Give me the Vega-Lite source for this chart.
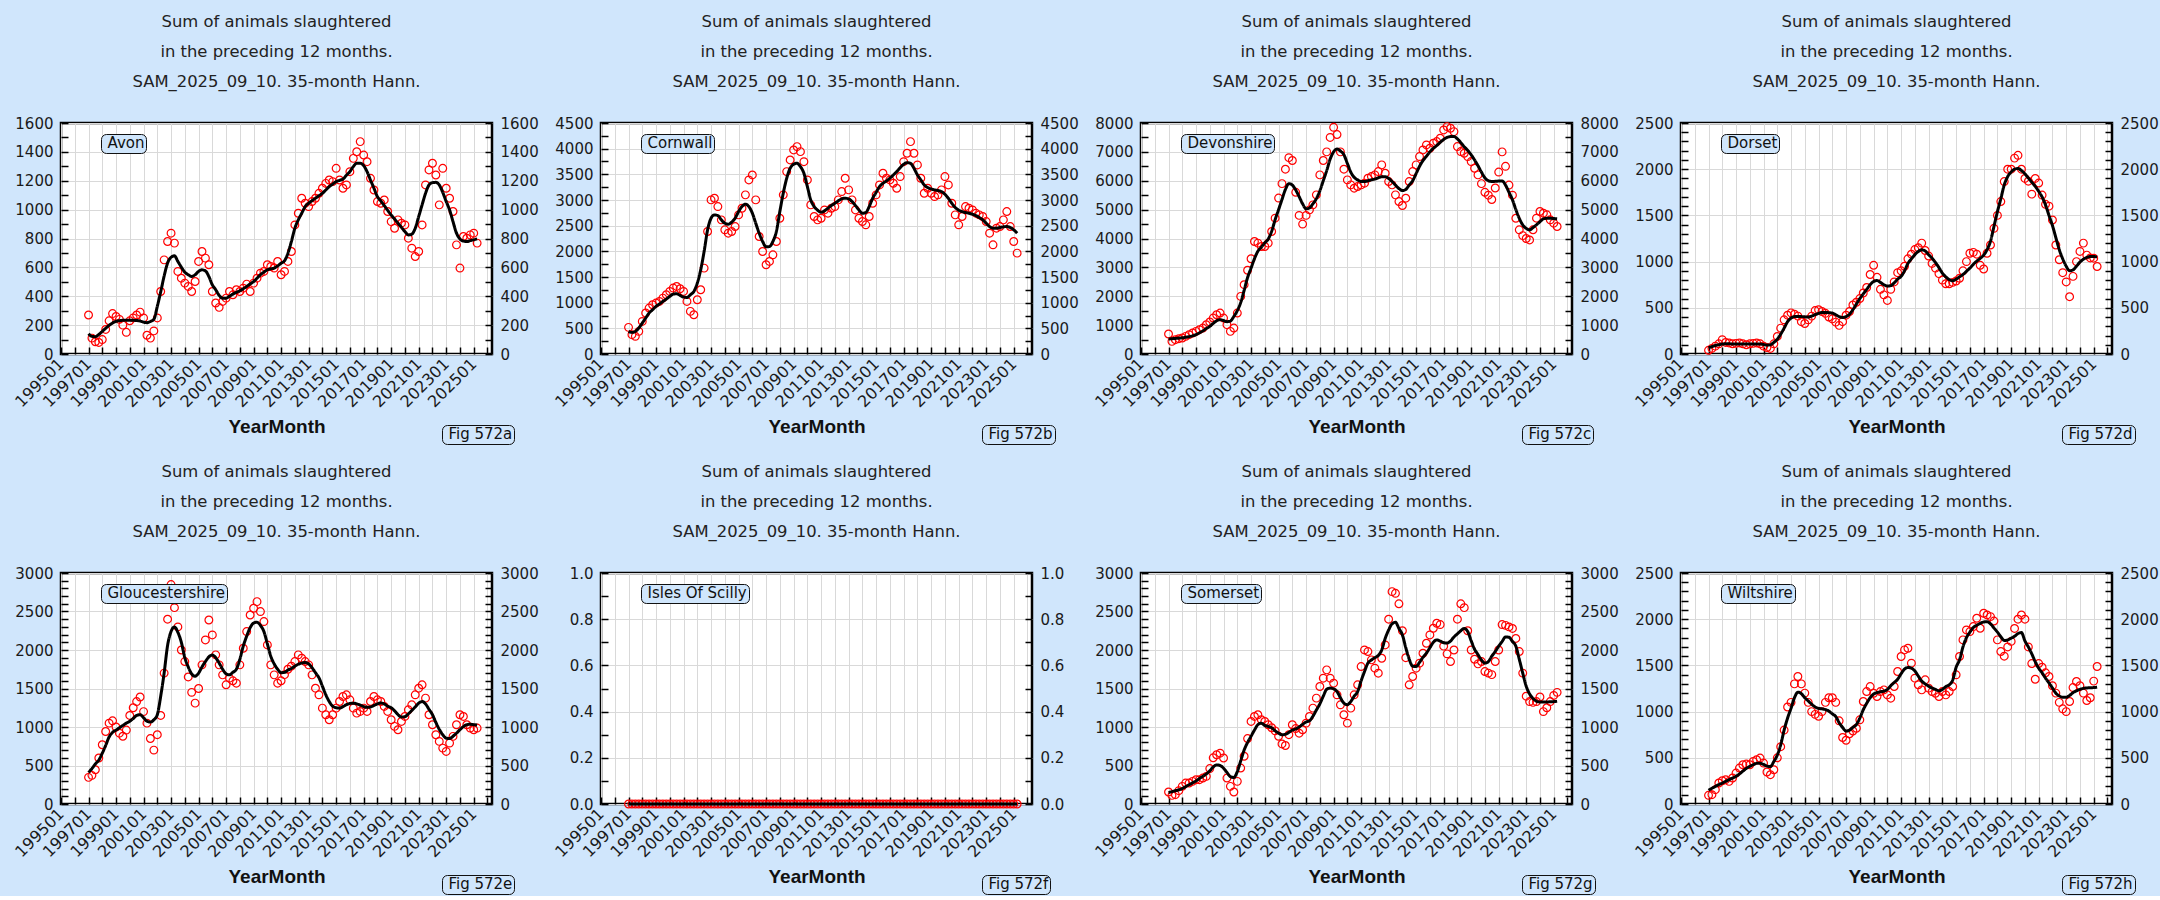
{
  "$schema": "https://vega.github.io/schema/vega-lite/v6.json",
  "background": "#d0e6fc",
  "padding": {"left": 10, "top": 12, "right": 0, "bottom": 0},
  "columns": 4,
  "spacing": {"row": 219, "column": 109},
  "bounds": "flush",
  "resolve": {"scale": {"shape": "independent", "strokeDash": "independent"}},
  "config": {
    "view": {"fill": "white", "stroke": "#000", "strokeWidth": 2.5},
    "title": {"font": "DejaVu Sans", "fontSize": 16.4, "fontWeight": "normal", "color": "#222", "lineHeight": 30, "offset": 26, "anchor": "middle"},
    "axis": {
      "labelFont": "DejaVu Sans", "labelFontSize": 15, "labelColor": "#1a1a1a",
      "domain": false, "tickColor": "#000", "tickWidth": 1.5, "tickSize": -7, "labelPadding": 15,
      "gridColor": "#d9d9d9", "gridWidth": 1,
      "titleFont": "Liberation Sans", "titleFontSize": 19, "titleFontWeight": "bold", "titleColor": "#111"
    },
    "axisX": {"labelAngle": -45, "labelAlign": "right", "labelBaseline": "middle", "labelOverlap": false, "labelFlush": false, "labelPadding": 14, "labelFontSize": 16, "titlePadding": 8},
    "axisY": {"format": "d"},
    "legend": {
      "fillColor": "#d0e6fc", "strokeColor": "#111", "cornerRadius": 5, "padding": 1.5,
      "labelFont": "DejaVu Sans", "labelFontSize": 15, "labelColor": "#111",
      "symbolSize": 0, "symbolOpacity": 0, "symbolStrokeWidth": 0, "labelOffset": -10
    }
  },
  "datasets": {
    "pts": [
      {"d":"1997-01","Avon":270,"Cornwall":519,"Devonshire":692,"Dorset":40,"Gloucestershire":346,"Isles Of Scilly":0,"Somerset":156,"Wiltshire":94},
      {"d":"1997-04","Avon":110,"Cornwall":376,"Devonshire":438,"Dorset":60,"Gloucestershire":372,"Isles Of Scilly":0,"Somerset":112,"Wiltshire":101},
      {"d":"1997-07","Avon":85,"Cornwall":344,"Devonshire":496,"Dorset":85,"Gloucestershire":445,"Isles Of Scilly":0,"Somerset":121,"Wiltshire":155},
      {"d":"1997-10","Avon":80,"Cornwall":441,"Devonshire":530,"Dorset":110,"Gloucestershire":597,"Isles Of Scilly":0,"Somerset":173,"Wiltshire":227},
      {"d":"1998-01","Avon":100,"Cornwall":635,"Devonshire":553,"Dorset":155,"Gloucestershire":769,"Isles Of Scilly":0,"Somerset":229,"Wiltshire":252},
      {"d":"1998-04","Avon":170,"Cornwall":798,"Devonshire":611,"Dorset":125,"Gloucestershire":942,"Isles Of Scilly":0,"Somerset":272,"Wiltshire":263},
      {"d":"1998-07","Avon":230,"Cornwall":895,"Devonshire":669,"Dorset":120,"Gloucestershire":1050,"Isles Of Scilly":0,"Somerset":272,"Wiltshire":245},
      {"d":"1998-10","Avon":280,"Cornwall":960,"Devonshire":726,"Dorset":110,"Gloucestershire":1080,"Isles Of Scilly":0,"Somerset":294,"Wiltshire":281},
      {"d":"1999-01","Avon":260,"Cornwall":992,"Devonshire":784,"Dorset":115,"Gloucestershire":1000,"Isles Of Scilly":0,"Somerset":316,"Wiltshire":335},
      {"d":"1999-04","Avon":240,"Cornwall":1024,"Devonshire":842,"Dorset":120,"Gloucestershire":920,"Isles Of Scilly":0,"Somerset":316,"Wiltshire":389},
      {"d":"1999-07","Avon":200,"Cornwall":1089,"Devonshire":899,"Dorset":110,"Gloucestershire":880,"Isles Of Scilly":0,"Somerset":337,"Wiltshire":425},
      {"d":"1999-10","Avon":150,"Cornwall":1154,"Devonshire":1015,"Dorset":100,"Gloucestershire":960,"Isles Of Scilly":0,"Somerset":359,"Wiltshire":432},
      {"d":"2000-01","Avon":230,"Cornwall":1219,"Devonshire":1107,"Dorset":110,"Gloucestershire":1150,"Isles Of Scilly":0,"Somerset":460,"Wiltshire":425},
      {"d":"2000-04","Avon":250,"Cornwall":1284,"Devonshire":1245,"Dorset":115,"Gloucestershire":1250,"Isles Of Scilly":0,"Somerset":600,"Wiltshire":461},
      {"d":"2000-07","Avon":270,"Cornwall":1316,"Devonshire":1360,"Dorset":120,"Gloucestershire":1330,"Isles Of Scilly":0,"Somerset":640,"Wiltshire":479},
      {"d":"2000-10","Avon":290,"Cornwall":1271,"Devonshire":1418,"Dorset":110,"Gloucestershire":1390,"Isles Of Scilly":0,"Somerset":660,"Wiltshire":497},
      {"d":"2001-01","Avon":250,"Cornwall":1219,"Devonshire":1245,"Dorset":85,"Gloucestershire":1200,"Isles Of Scilly":0,"Somerset":597,"Wiltshire":443},
      {"d":"2001-04","Avon":130,"Cornwall":1024,"Devonshire":1015,"Dorset":70,"Gloucestershire":1050,"Isles Of Scilly":0,"Somerset":337,"Wiltshire":346},
      {"d":"2001-07","Avon":110,"Cornwall":830,"Devonshire":784,"Dorset":60,"Gloucestershire":850,"Isles Of Scilly":0,"Somerset":229,"Wiltshire":317},
      {"d":"2001-10","Avon":160,"Cornwall":765,"Devonshire":899,"Dorset":110,"Gloucestershire":700,"Isles Of Scilly":0,"Somerset":156,"Wiltshire":371},
      {"d":"2002-01","Avon":250,"Cornwall":1057,"Devonshire":1418,"Dorset":190,"Gloucestershire":900,"Isles Of Scilly":0,"Somerset":294,"Wiltshire":500},
      {"d":"2002-04","Avon":433,"Cornwall":1251,"Devonshire":1995,"Dorset":280,"Gloucestershire":1150,"Isles Of Scilly":0,"Somerset":467,"Wiltshire":620},
      {"d":"2002-07","Avon":652,"Cornwall":1673,"Devonshire":2400,"Dorset":370,"Gloucestershire":1700,"Isles Of Scilly":0,"Somerset":620,"Wiltshire":800},
      {"d":"2002-10","Avon":779,"Cornwall":2386,"Devonshire":2900,"Dorset":420,"Gloucestershire":2400,"Isles Of Scilly":0,"Somerset":850,"Wiltshire":1050},
      {"d":"2003-01","Avon":837,"Cornwall":3002,"Devonshire":3300,"Dorset":445,"Gloucestershire":2850,"Isles Of Scilly":0,"Somerset":1072,"Wiltshire":1100},
      {"d":"2003-04","Avon":768,"Cornwall":3034,"Devonshire":3897,"Dorset":430,"Gloucestershire":2550,"Isles Of Scilly":0,"Somerset":1137,"Wiltshire":1300},
      {"d":"2003-07","Avon":572,"Cornwall":2872,"Devonshire":3840,"Dorset":410,"Gloucestershire":2300,"Isles Of Scilly":0,"Somerset":1159,"Wiltshire":1380},
      {"d":"2003-10","Avon":525,"Cornwall":2613,"Devonshire":3724,"Dorset":350,"Gloucestershire":2000,"Isles Of Scilly":0,"Somerset":1094,"Wiltshire":1300},
      {"d":"2004-01","Avon":491,"Cornwall":2419,"Devonshire":3724,"Dorset":330,"Gloucestershire":1850,"Isles Of Scilly":0,"Somerset":1072,"Wiltshire":1200},
      {"d":"2004-04","Avon":468,"Cornwall":2354,"Devonshire":3840,"Dorset":370,"Gloucestershire":1650,"Isles Of Scilly":0,"Somerset":1029,"Wiltshire":1100},
      {"d":"2004-07","Avon":433,"Cornwall":2386,"Devonshire":4243,"Dorset":410,"Gloucestershire":1450,"Isles Of Scilly":0,"Somerset":990,"Wiltshire":1000},
      {"d":"2004-10","Avon":502,"Cornwall":2483,"Devonshire":4704,"Dorset":470,"Gloucestershire":1310,"Isles Of Scilly":0,"Somerset":950,"Wiltshire":970},
      {"d":"2005-01","Avon":641,"Cornwall":2710,"Devonshire":5400,"Dorset":480,"Gloucestershire":1500,"Isles Of Scilly":0,"Somerset":880,"Wiltshire":950},
      {"d":"2005-04","Avon":710,"Cornwall":2840,"Devonshire":5900,"Dorset":460,"Gloucestershire":1807,"Isles Of Scilly":0,"Somerset":780,"Wiltshire":1000},
      {"d":"2005-07","Avon":664,"Cornwall":3100,"Devonshire":6400,"Dorset":440,"Gloucestershire":2131,"Isles Of Scilly":0,"Somerset":760,"Wiltshire":1100},
      {"d":"2005-10","Avon":618,"Cornwall":3391,"Devonshire":6800,"Dorset":400,"Gloucestershire":2390,"Isles Of Scilly":0,"Somerset":900,"Wiltshire":1150},
      {"d":"2006-01","Avon":433,"Cornwall":3488,"Devonshire":6700,"Dorset":380,"Gloucestershire":2196,"Isles Of Scilly":0,"Somerset":1029,"Wiltshire":1150},
      {"d":"2006-04","Avon":353,"Cornwall":3002,"Devonshire":5600,"Dorset":345,"Gloucestershire":1937,"Isles Of Scilly":0,"Somerset":980,"Wiltshire":1100},
      {"d":"2006-07","Avon":323,"Cornwall":2289,"Devonshire":4800,"Dorset":310,"Gloucestershire":1807,"Isles Of Scilly":0,"Somerset":920,"Wiltshire":900},
      {"d":"2006-10","Avon":364,"Cornwall":1997,"Devonshire":4500,"Dorset":350,"Gloucestershire":1677,"Isles Of Scilly":0,"Somerset":964,"Wiltshire":720},
      {"d":"2007-01","Avon":387,"Cornwall":1738,"Devonshire":4800,"Dorset":420,"Gloucestershire":1548,"Isles Of Scilly":0,"Somerset":1050,"Wiltshire":690},
      {"d":"2007-04","Avon":433,"Cornwall":1803,"Devonshire":4992,"Dorset":460,"Gloucestershire":1634,"Isles Of Scilly":0,"Somerset":1137,"Wiltshire":760},
      {"d":"2007-07","Avon":410,"Cornwall":1932,"Devonshire":5165,"Dorset":530,"Gloucestershire":1600,"Isles Of Scilly":0,"Somerset":1245,"Wiltshire":790},
      {"d":"2007-10","Avon":445,"Cornwall":2192,"Devonshire":5511,"Dorset":560,"Gloucestershire":1569,"Isles Of Scilly":0,"Somerset":1375,"Wiltshire":820},
      {"d":"2008-01","Avon":433,"Cornwall":2645,"Devonshire":6203,"Dorset":600,"Gloucestershire":1807,"Isles Of Scilly":0,"Somerset":1526,"Wiltshire":911},
      {"d":"2008-04","Avon":456,"Cornwall":3100,"Devonshire":6700,"Dorset":660,"Gloucestershire":2023,"Isles Of Scilly":0,"Somerset":1634,"Wiltshire":1109},
      {"d":"2008-07","Avon":484,"Cornwall":3553,"Devonshire":7000,"Dorset":720,"Gloucestershire":2239,"Isles Of Scilly":0,"Somerset":1742,"Wiltshire":1217},
      {"d":"2008-10","Avon":433,"Cornwall":3780,"Devonshire":7500,"Dorset":860,"Gloucestershire":2455,"Isles Of Scilly":0,"Somerset":1634,"Wiltshire":1271},
      {"d":"2009-01","Avon":491,"Cornwall":3975,"Devonshire":7850,"Dorset":960,"Gloucestershire":2542,"Isles Of Scilly":0,"Somerset":1569,"Wiltshire":1199},
      {"d":"2009-04","Avon":525,"Cornwall":4040,"Devonshire":7600,"Dorset":830,"Gloucestershire":2628,"Isles Of Scilly":0,"Somerset":1418,"Wiltshire":1163},
      {"d":"2009-07","Avon":560,"Cornwall":3942,"Devonshire":7000,"Dorset":700,"Gloucestershire":2499,"Isles Of Scilly":0,"Somerset":1288,"Wiltshire":1217},
      {"d":"2009-10","Avon":572,"Cornwall":3747,"Devonshire":6400,"Dorset":640,"Gloucestershire":2369,"Isles Of Scilly":0,"Somerset":1159,"Wiltshire":1235},
      {"d":"2010-01","Avon":618,"Cornwall":3391,"Devonshire":6030,"Dorset":580,"Gloucestershire":2066,"Isles Of Scilly":0,"Somerset":1050,"Wiltshire":1181},
      {"d":"2010-04","Avon":606,"Cornwall":2905,"Devonshire":5857,"Dorset":700,"Gloucestershire":1807,"Isles Of Scilly":0,"Somerset":1245,"Wiltshire":1145},
      {"d":"2010-07","Avon":595,"Cornwall":2678,"Devonshire":5742,"Dorset":780,"Gloucestershire":1677,"Isles Of Scilly":0,"Somerset":1418,"Wiltshire":1271},
      {"d":"2010-10","Avon":641,"Cornwall":2613,"Devonshire":5799,"Dorset":880,"Gloucestershire":1569,"Isles Of Scilly":0,"Somerset":1548,"Wiltshire":1434},
      {"d":"2011-01","Avon":549,"Cornwall":2645,"Devonshire":5857,"Dorset":900,"Gloucestershire":1600,"Isles Of Scilly":0,"Somerset":1785,"Wiltshire":1596},
      {"d":"2011-04","Avon":572,"Cornwall":2807,"Devonshire":5915,"Dorset":950,"Gloucestershire":1680,"Isles Of Scilly":0,"Somerset":2001,"Wiltshire":1668},
      {"d":"2011-07","Avon":641,"Cornwall":2743,"Devonshire":6088,"Dorset":1030,"Gloucestershire":1750,"Isles Of Scilly":0,"Somerset":1980,"Wiltshire":1686},
      {"d":"2011-10","Avon":710,"Cornwall":2840,"Devonshire":6145,"Dorset":1080,"Gloucestershire":1790,"Isles Of Scilly":0,"Somerset":1872,"Wiltshire":1524},
      {"d":"2012-01","Avon":894,"Cornwall":2872,"Devonshire":6203,"Dorset":1130,"Gloucestershire":1850,"Isles Of Scilly":0,"Somerset":1764,"Wiltshire":1362},
      {"d":"2012-04","Avon":975,"Cornwall":3002,"Devonshire":6318,"Dorset":1150,"Gloucestershire":1937,"Isles Of Scilly":0,"Somerset":1699,"Wiltshire":1290},
      {"d":"2012-07","Avon":1079,"Cornwall":3164,"Devonshire":6549,"Dorset":1200,"Gloucestershire":1893,"Isles Of Scilly":0,"Somerset":1893,"Wiltshire":1235},
      {"d":"2012-10","Avon":1044,"Cornwall":3424,"Devonshire":6260,"Dorset":1120,"Gloucestershire":1850,"Isles Of Scilly":0,"Somerset":2066,"Wiltshire":1344},
      {"d":"2013-01","Avon":1021,"Cornwall":3197,"Devonshire":5972,"Dorset":1060,"Gloucestershire":1807,"Isles Of Scilly":0,"Somerset":2400,"Wiltshire":1254},
      {"d":"2013-04","Avon":1056,"Cornwall":3002,"Devonshire":5857,"Dorset":980,"Gloucestershire":1677,"Isles Of Scilly":0,"Somerset":2758,"Wiltshire":1217},
      {"d":"2013-07","Avon":1079,"Cornwall":2807,"Devonshire":5511,"Dorset":930,"Gloucestershire":1504,"Isles Of Scilly":0,"Somerset":2736,"Wiltshire":1199},
      {"d":"2013-10","Avon":1113,"Cornwall":2645,"Devonshire":5280,"Dorset":870,"Gloucestershire":1418,"Isles Of Scilly":0,"Somerset":2600,"Wiltshire":1163},
      {"d":"2014-01","Avon":1148,"Cornwall":2580,"Devonshire":5142,"Dorset":800,"Gloucestershire":1245,"Isles Of Scilly":0,"Somerset":2250,"Wiltshire":1217},
      {"d":"2014-04","Avon":1182,"Cornwall":2516,"Devonshire":5396,"Dorset":760,"Gloucestershire":1159,"Isles Of Scilly":0,"Somerset":1900,"Wiltshire":1181},
      {"d":"2014-07","Avon":1205,"Cornwall":2678,"Devonshire":5972,"Dorset":760,"Gloucestershire":1094,"Isles Of Scilly":0,"Somerset":1548,"Wiltshire":1217},
      {"d":"2014-10","Avon":1194,"Cornwall":2937,"Devonshire":6318,"Dorset":775,"Gloucestershire":1159,"Isles Of Scilly":0,"Somerset":1656,"Wiltshire":1271},
      {"d":"2015-01","Avon":1286,"Cornwall":3100,"Devonshire":6549,"Dorset":790,"Gloucestershire":1245,"Isles Of Scilly":0,"Somerset":1764,"Wiltshire":1398},
      {"d":"2015-04","Avon":1205,"Cornwall":3294,"Devonshire":6837,"Dorset":820,"Gloucestershire":1331,"Isles Of Scilly":0,"Somerset":1829,"Wiltshire":1596},
      {"d":"2015-07","Avon":1148,"Cornwall":3521,"Devonshire":7068,"Dorset":900,"Gloucestershire":1396,"Isles Of Scilly":0,"Somerset":1958,"Wiltshire":1776},
      {"d":"2015-10","Avon":1171,"Cornwall":3424,"Devonshire":7241,"Dorset":1000,"Gloucestershire":1418,"Isles Of Scilly":0,"Somerset":2088,"Wiltshire":1884},
      {"d":"2016-01","Avon":1263,"Cornwall":3391,"Devonshire":7125,"Dorset":1090,"Gloucestershire":1353,"Isles Of Scilly":0,"Somerset":2196,"Wiltshire":1866},
      {"d":"2016-04","Avon":1355,"Cornwall":3326,"Devonshire":7298,"Dorset":1100,"Gloucestershire":1245,"Isles Of Scilly":0,"Somerset":2282,"Wiltshire":1920},
      {"d":"2016-07","Avon":1401,"Cornwall":3229,"Devonshire":7356,"Dorset":1080,"Gloucestershire":1180,"Isles Of Scilly":0,"Somerset":2347,"Wiltshire":2010},
      {"d":"2016-10","Avon":1471,"Cornwall":3456,"Devonshire":7472,"Dorset":960,"Gloucestershire":1202,"Isles Of Scilly":0,"Somerset":2330,"Wiltshire":1902},
      {"d":"2017-01","Avon":1378,"Cornwall":3747,"Devonshire":7760,"Dorset":920,"Gloucestershire":1245,"Isles Of Scilly":0,"Somerset":2050,"Wiltshire":2064},
      {"d":"2017-04","Avon":1332,"Cornwall":3910,"Devonshire":7875,"Dorset":1090,"Gloucestershire":1202,"Isles Of Scilly":0,"Somerset":1950,"Wiltshire":2046},
      {"d":"2017-07","Avon":1217,"Cornwall":4137,"Devonshire":7817,"Dorset":1180,"Gloucestershire":1331,"Isles Of Scilly":0,"Somerset":1850,"Wiltshire":2028},
      {"d":"2017-10","Avon":1136,"Cornwall":3910,"Devonshire":7702,"Dorset":1360,"Gloucestershire":1396,"Isles Of Scilly":0,"Somerset":2000,"Wiltshire":1980},
      {"d":"2018-01","Avon":1056,"Cornwall":3683,"Devonshire":7183,"Dorset":1500,"Gloucestershire":1353,"Isles Of Scilly":0,"Somerset":2400,"Wiltshire":1776},
      {"d":"2018-04","Avon":1044,"Cornwall":3424,"Devonshire":7010,"Dorset":1650,"Gloucestershire":1331,"Isles Of Scilly":0,"Somerset":2600,"Wiltshire":1650},
      {"d":"2018-07","Avon":1067,"Cornwall":3132,"Devonshire":6953,"Dorset":1866,"Gloucestershire":1267,"Isles Of Scilly":0,"Somerset":2550,"Wiltshire":1600},
      {"d":"2018-10","Avon":987,"Cornwall":3229,"Devonshire":6837,"Dorset":2000,"Gloucestershire":1202,"Isles Of Scilly":0,"Somerset":2250,"Wiltshire":1700},
      {"d":"2019-01","Avon":917,"Cornwall":3132,"Devonshire":6664,"Dorset":2000,"Gloucestershire":1094,"Isles Of Scilly":0,"Somerset":2000,"Wiltshire":1760},
      {"d":"2019-04","Avon":871,"Cornwall":3067,"Devonshire":6434,"Dorset":2120,"Gloucestershire":1008,"Isles Of Scilly":0,"Somerset":1880,"Wiltshire":1900},
      {"d":"2019-07","Avon":929,"Cornwall":3100,"Devonshire":6203,"Dorset":2150,"Gloucestershire":964,"Isles Of Scilly":0,"Somerset":1820,"Wiltshire":2000},
      {"d":"2019-10","Avon":906,"Cornwall":3197,"Devonshire":5900,"Dorset":2000,"Gloucestershire":1072,"Isles Of Scilly":0,"Somerset":1850,"Wiltshire":2046},
      {"d":"2020-01","Avon":894,"Cornwall":3456,"Devonshire":5600,"Dorset":1900,"Gloucestershire":1137,"Isles Of Scilly":0,"Somerset":1720,"Wiltshire":2000},
      {"d":"2020-04","Avon":802,"Cornwall":3294,"Devonshire":5500,"Dorset":1870,"Gloucestershire":1223,"Isles Of Scilly":0,"Somerset":1700,"Wiltshire":1700},
      {"d":"2020-07","Avon":733,"Cornwall":2937,"Devonshire":5350,"Dorset":1730,"Gloucestershire":1288,"Isles Of Scilly":0,"Somerset":1680,"Wiltshire":1520},
      {"d":"2020-10","Avon":675,"Cornwall":2710,"Devonshire":5750,"Dorset":1900,"Gloucestershire":1418,"Isles Of Scilly":0,"Somerset":1850,"Wiltshire":1350},
      {"d":"2021-01","Avon":710,"Cornwall":2516,"Devonshire":6300,"Dorset":1850,"Gloucestershire":1504,"Isles Of Scilly":0,"Somerset":2000,"Wiltshire":1520},
      {"d":"2021-04","Avon":894,"Cornwall":2678,"Devonshire":7000,"Dorset":1720,"Gloucestershire":1548,"Isles Of Scilly":0,"Somerset":2330,"Wiltshire":1480},
      {"d":"2021-07","Avon":1171,"Cornwall":2872,"Devonshire":6500,"Dorset":1620,"Gloucestershire":1375,"Isles Of Scilly":0,"Somerset":2320,"Wiltshire":1420},
      {"d":"2021-10","Avon":1275,"Cornwall":2840,"Devonshire":5850,"Dorset":1600,"Gloucestershire":1159,"Isles Of Scilly":0,"Somerset":2300,"Wiltshire":1380},
      {"d":"2022-01","Avon":1321,"Cornwall":2807,"Devonshire":5500,"Dorset":1450,"Gloucestershire":1029,"Isles Of Scilly":0,"Somerset":2280,"Wiltshire":1280},
      {"d":"2022-04","Avon":1240,"Cornwall":2743,"Devonshire":4700,"Dorset":1180,"Gloucestershire":899,"Isles Of Scilly":0,"Somerset":2150,"Wiltshire":1200},
      {"d":"2022-07","Avon":1033,"Cornwall":2710,"Devonshire":4300,"Dorset":1020,"Gloucestershire":813,"Isles Of Scilly":0,"Somerset":1980,"Wiltshire":1100},
      {"d":"2022-10","Avon":1286,"Cornwall":2678,"Devonshire":4100,"Dorset":880,"Gloucestershire":726,"Isles Of Scilly":0,"Somerset":1700,"Wiltshire":1030},
      {"d":"2023-01","Avon":1148,"Cornwall":2580,"Devonshire":4000,"Dorset":780,"Gloucestershire":683,"Isles Of Scilly":0,"Somerset":1400,"Wiltshire":1000},
      {"d":"2023-04","Avon":1079,"Cornwall":2354,"Devonshire":3950,"Dorset":620,"Gloucestershire":791,"Isles Of Scilly":0,"Somerset":1330,"Wiltshire":1109},
      {"d":"2023-07","Avon":987,"Cornwall":2127,"Devonshire":4301,"Dorset":840,"Gloucestershire":878,"Isles Of Scilly":0,"Somerset":1320,"Wiltshire":1260},
      {"d":"2023-10","Avon":756,"Cornwall":2451,"Devonshire":4704,"Dorset":1000,"Gloucestershire":1029,"Isles Of Scilly":0,"Somerset":1330,"Wiltshire":1326},
      {"d":"2024-01","Avon":595,"Cornwall":2483,"Devonshire":4935,"Dorset":1110,"Gloucestershire":1159,"Isles Of Scilly":0,"Somerset":1390,"Wiltshire":1280},
      {"d":"2024-04","Avon":814,"Cornwall":2613,"Devonshire":4877,"Dorset":1200,"Gloucestershire":1137,"Isles Of Scilly":0,"Somerset":1200,"Wiltshire":1200},
      {"d":"2024-07","Avon":802,"Cornwall":2775,"Devonshire":4820,"Dorset":1070,"Gloucestershire":1029,"Isles Of Scilly":0,"Somerset":1250,"Wiltshire":1120},
      {"d":"2024-10","Avon":825,"Cornwall":2483,"Devonshire":4647,"Dorset":1040,"Gloucestershire":986,"Isles Of Scilly":0,"Somerset":1330,"Wiltshire":1150},
      {"d":"2025-01","Avon":837,"Cornwall":2192,"Devonshire":4531,"Dorset":1037,"Gloucestershire":964,"Isles Of Scilly":0,"Somerset":1410,"Wiltshire":1330},
      {"d":"2025-04","Avon":768,"Cornwall":1965,"Devonshire":4416,"Dorset":947,"Gloucestershire":986,"Isles Of Scilly":0,"Somerset":1450,"Wiltshire":1488}
    ],
    "sm": [
      {"d":"1997-01","Avon":140,"Cornwall":441,"Devonshire":520,"Dorset":68,"Gloucestershire":410,"Isles Of Scilly":0,"Somerset":150,"Wiltshire":148},
      {"d":"1997-04","Avon":122,"Cornwall":421,"Devonshire":530,"Dorset":80,"Gloucestershire":460,"Isles Of Scilly":0,"Somerset":160,"Wiltshire":170},
      {"d":"1997-07","Avon":120,"Cornwall":441,"Devonshire":540,"Dorset":92,"Gloucestershire":520,"Isles Of Scilly":0,"Somerset":172,"Wiltshire":190},
      {"d":"1997-10","Avon":135,"Cornwall":506,"Devonshire":550,"Dorset":100,"Gloucestershire":570,"Isles Of Scilly":0,"Somerset":184,"Wiltshire":210},
      {"d":"1998-01","Avon":157,"Cornwall":603,"Devonshire":560,"Dorset":108,"Gloucestershire":660,"Isles Of Scilly":0,"Somerset":200,"Wiltshire":227},
      {"d":"1998-04","Avon":178,"Cornwall":700,"Devonshire":580,"Dorset":110,"Gloucestershire":760,"Isles Of Scilly":0,"Somerset":225,"Wiltshire":245},
      {"d":"1998-07","Avon":198,"Cornwall":798,"Devonshire":600,"Dorset":110,"Gloucestershire":870,"Isles Of Scilly":0,"Somerset":250,"Wiltshire":263},
      {"d":"1998-10","Avon":215,"Cornwall":862,"Devonshire":630,"Dorset":108,"Gloucestershire":930,"Isles Of Scilly":0,"Somerset":275,"Wiltshire":281},
      {"d":"1999-01","Avon":226,"Cornwall":927,"Devonshire":670,"Dorset":108,"Gloucestershire":960,"Isles Of Scilly":0,"Somerset":300,"Wiltshire":299},
      {"d":"1999-04","Avon":231,"Cornwall":973,"Devonshire":730,"Dorset":108,"Gloucestershire":990,"Isles Of Scilly":0,"Somerset":330,"Wiltshire":325},
      {"d":"1999-07","Avon":233,"Cornwall":1024,"Devonshire":800,"Dorset":108,"Gloucestershire":1020,"Isles Of Scilly":0,"Somerset":360,"Wiltshire":355},
      {"d":"1999-10","Avon":233,"Cornwall":1070,"Devonshire":880,"Dorset":108,"Gloucestershire":1050,"Isles Of Scilly":0,"Somerset":390,"Wiltshire":385},
      {"d":"2000-01","Avon":233,"Cornwall":1122,"Devonshire":957,"Dorset":108,"Gloucestershire":1075,"Isles Of Scilly":0,"Somerset":430,"Wiltshire":407},
      {"d":"2000-04","Avon":233,"Cornwall":1167,"Devonshire":1060,"Dorset":108,"Gloucestershire":1110,"Isles Of Scilly":0,"Somerset":480,"Wiltshire":425},
      {"d":"2000-07","Avon":232,"Cornwall":1174,"Devonshire":1150,"Dorset":108,"Gloucestershire":1150,"Isles Of Scilly":0,"Somerset":508,"Wiltshire":440},
      {"d":"2000-10","Avon":228,"Cornwall":1141,"Devonshire":1190,"Dorset":108,"Gloucestershire":1160,"Isles Of Scilly":0,"Somerset":500,"Wiltshire":440},
      {"d":"2001-01","Avon":221,"Cornwall":1109,"Devonshire":1160,"Dorset":102,"Gloucestershire":1120,"Isles Of Scilly":0,"Somerset":465,"Wiltshire":428},
      {"d":"2001-04","Avon":217,"Cornwall":1102,"Devonshire":1120,"Dorset":96,"Gloucestershire":1075,"Isles Of Scilly":0,"Somerset":410,"Wiltshire":410},
      {"d":"2001-07","Avon":225,"Cornwall":1154,"Devonshire":1140,"Dorset":100,"Gloucestershire":1065,"Isles Of Scilly":0,"Somerset":355,"Wiltshire":405},
      {"d":"2001-10","Avon":240,"Cornwall":1219,"Devonshire":1300,"Dorset":125,"Gloucestershire":1094,"Isles Of Scilly":0,"Somerset":345,"Wiltshire":460},
      {"d":"2002-01","Avon":330,"Cornwall":1381,"Devonshire":1500,"Dorset":160,"Gloucestershire":1160,"Isles Of Scilly":0,"Somerset":420,"Wiltshire":530},
      {"d":"2002-04","Avon":430,"Cornwall":1640,"Devonshire":1780,"Dorset":215,"Gloucestershire":1400,"Isles Of Scilly":0,"Somerset":560,"Wiltshire":640},
      {"d":"2002-07","Avon":540,"Cornwall":1997,"Devonshire":2200,"Dorset":280,"Gloucestershire":1700,"Isles Of Scilly":0,"Somerset":700,"Wiltshire":800},
      {"d":"2002-10","Avon":630,"Cornwall":2419,"Devonshire":2650,"Dorset":350,"Gloucestershire":2060,"Isles Of Scilly":0,"Somerset":800,"Wiltshire":930},
      {"d":"2003-01","Avon":670,"Cornwall":2645,"Devonshire":2975,"Dorset":389,"Gloucestershire":2240,"Isles Of Scilly":0,"Somerset":880,"Wiltshire":1037},
      {"d":"2003-04","Avon":680,"Cornwall":2710,"Devonshire":3300,"Dorset":405,"Gloucestershire":2300,"Isles Of Scilly":0,"Somerset":960,"Wiltshire":1150},
      {"d":"2003-07","Avon":641,"Cornwall":2697,"Devonshire":3560,"Dorset":407,"Gloucestershire":2230,"Isles Of Scilly":0,"Somerset":1030,"Wiltshire":1210},
      {"d":"2003-10","Avon":602,"Cornwall":2613,"Devonshire":3700,"Dorset":405,"Gloucestershire":2100,"Isles Of Scilly":0,"Somerset":1050,"Wiltshire":1195},
      {"d":"2004-01","Avon":567,"Cornwall":2548,"Devonshire":3850,"Dorset":402,"Gloucestershire":1900,"Isles Of Scilly":0,"Somerset":1020,"Wiltshire":1150},
      {"d":"2004-04","Avon":549,"Cornwall":2528,"Devonshire":3980,"Dorset":400,"Gloucestershire":1780,"Isles Of Scilly":0,"Somerset":1008,"Wiltshire":1115},
      {"d":"2004-07","Avon":537,"Cornwall":2568,"Devonshire":4250,"Dorset":410,"Gloucestershire":1690,"Isles Of Scilly":0,"Somerset":990,"Wiltshire":1080},
      {"d":"2004-10","Avon":549,"Cornwall":2645,"Devonshire":4650,"Dorset":425,"Gloucestershire":1660,"Isles Of Scilly":0,"Somerset":950,"Wiltshire":1050},
      {"d":"2005-01","Avon":572,"Cornwall":2775,"Devonshire":5000,"Dorset":440,"Gloucestershire":1700,"Isles Of Scilly":0,"Somerset":920,"Wiltshire":1035},
      {"d":"2005-04","Avon":583,"Cornwall":2872,"Devonshire":5350,"Dorset":450,"Gloucestershire":1780,"Isles Of Scilly":0,"Somerset":900,"Wiltshire":1030},
      {"d":"2005-07","Avon":576,"Cornwall":2918,"Devonshire":5700,"Dorset":450,"Gloucestershire":1850,"Isles Of Scilly":0,"Somerset":905,"Wiltshire":1022},
      {"d":"2005-10","Avon":537,"Cornwall":2872,"Devonshire":5900,"Dorset":447,"Gloucestershire":1910,"Isles Of Scilly":0,"Somerset":930,"Wiltshire":1005},
      {"d":"2006-01","Avon":479,"Cornwall":2743,"Devonshire":5850,"Dorset":443,"Gloucestershire":1935,"Isles Of Scilly":0,"Somerset":960,"Wiltshire":975},
      {"d":"2006-04","Avon":445,"Cornwall":2548,"Devonshire":5680,"Dorset":425,"Gloucestershire":1900,"Isles Of Scilly":0,"Somerset":975,"Wiltshire":947},
      {"d":"2006-07","Avon":406,"Cornwall":2354,"Devonshire":5450,"Dorset":405,"Gloucestershire":1830,"Isles Of Scilly":0,"Somerset":1000,"Wiltshire":880},
      {"d":"2006-10","Avon":387,"Cornwall":2192,"Devonshire":5200,"Dorset":396,"Gloucestershire":1750,"Isles Of Scilly":0,"Somerset":1035,"Wiltshire":828},
      {"d":"2007-01","Avon":387,"Cornwall":2088,"Devonshire":5030,"Dorset":405,"Gloucestershire":1690,"Isles Of Scilly":0,"Somerset":1065,"Wiltshire":790},
      {"d":"2007-04","Avon":400,"Cornwall":2094,"Devonshire":5060,"Dorset":430,"Gloucestershire":1677,"Isles Of Scilly":0,"Somerset":1080,"Wiltshire":800},
      {"d":"2007-07","Avon":415,"Cornwall":2192,"Devonshire":5200,"Dorset":480,"Gloucestershire":1710,"Isles Of Scilly":0,"Somerset":1140,"Wiltshire":830},
      {"d":"2007-10","Avon":427,"Cornwall":2386,"Devonshire":5380,"Dorset":540,"Gloucestershire":1750,"Isles Of Scilly":0,"Somerset":1220,"Wiltshire":860},
      {"d":"2008-01","Avon":438,"Cornwall":2775,"Devonshire":5650,"Dorset":600,"Gloucestershire":1880,"Isles Of Scilly":0,"Somerset":1300,"Wiltshire":930},
      {"d":"2008-04","Avon":452,"Cornwall":3132,"Devonshire":6000,"Dorset":650,"Gloucestershire":2050,"Isles Of Scilly":0,"Somerset":1400,"Wiltshire":1020},
      {"d":"2008-07","Avon":468,"Cornwall":3423,"Devonshire":6350,"Dorset":700,"Gloucestershire":2180,"Isles Of Scilly":0,"Somerset":1490,"Wiltshire":1090},
      {"d":"2008-10","Avon":485,"Cornwall":3618,"Devonshire":6750,"Dorset":750,"Gloucestershire":2290,"Isles Of Scilly":0,"Somerset":1505,"Wiltshire":1150},
      {"d":"2009-01","Avon":502,"Cornwall":3696,"Devonshire":7000,"Dorset":785,"Gloucestershire":2350,"Isles Of Scilly":0,"Somerset":1495,"Wiltshire":1190},
      {"d":"2009-04","Avon":525,"Cornwall":3715,"Devonshire":7100,"Dorset":795,"Gloucestershire":2360,"Isles Of Scilly":0,"Somerset":1460,"Wiltshire":1205},
      {"d":"2009-07","Avon":549,"Cornwall":3650,"Devonshire":7030,"Dorset":775,"Gloucestershire":2320,"Isles Of Scilly":0,"Somerset":1380,"Wiltshire":1215},
      {"d":"2009-10","Avon":567,"Cornwall":3521,"Devonshire":6900,"Dorset":750,"Gloucestershire":2240,"Isles Of Scilly":0,"Somerset":1310,"Wiltshire":1222},
      {"d":"2010-01","Avon":583,"Cornwall":3261,"Devonshire":6600,"Dorset":735,"Gloucestershire":2080,"Isles Of Scilly":0,"Somerset":1290,"Wiltshire":1240},
      {"d":"2010-04","Avon":590,"Cornwall":3002,"Devonshire":6300,"Dorset":740,"Gloucestershire":1920,"Isles Of Scilly":0,"Somerset":1330,"Wiltshire":1280},
      {"d":"2010-07","Avon":595,"Cornwall":2872,"Devonshire":6120,"Dorset":770,"Gloucestershire":1820,"Isles Of Scilly":0,"Somerset":1400,"Wiltshire":1315},
      {"d":"2010-10","Avon":610,"Cornwall":2801,"Devonshire":6030,"Dorset":810,"Gloucestershire":1750,"Isles Of Scilly":0,"Somerset":1460,"Wiltshire":1350},
      {"d":"2011-01","Avon":629,"Cornwall":2762,"Devonshire":5975,"Dorset":840,"Gloucestershire":1705,"Isles Of Scilly":0,"Somerset":1600,"Wiltshire":1410},
      {"d":"2011-04","Avon":645,"Cornwall":2788,"Devonshire":5970,"Dorset":900,"Gloucestershire":1710,"Isles Of Scilly":0,"Somerset":1720,"Wiltshire":1460},
      {"d":"2011-07","Avon":698,"Cornwall":2840,"Devonshire":6000,"Dorset":980,"Gloucestershire":1740,"Isles Of Scilly":0,"Somerset":1830,"Wiltshire":1477},
      {"d":"2011-10","Avon":779,"Cornwall":2892,"Devonshire":6030,"Dorset":1030,"Gloucestershire":1760,"Isles Of Scilly":0,"Somerset":1870,"Wiltshire":1470},
      {"d":"2012-01","Avon":871,"Cornwall":2937,"Devonshire":6060,"Dorset":1075,"Gloucestershire":1790,"Isles Of Scilly":0,"Somerset":1900,"Wiltshire":1440},
      {"d":"2012-04","Avon":929,"Cornwall":2983,"Devonshire":6100,"Dorset":1110,"Gloucestershire":1815,"Isles Of Scilly":0,"Somerset":1930,"Wiltshire":1385},
      {"d":"2012-07","Avon":975,"Cornwall":3022,"Devonshire":6140,"Dorset":1127,"Gloucestershire":1830,"Isles Of Scilly":0,"Somerset":2000,"Wiltshire":1330},
      {"d":"2012-10","Avon":1021,"Cornwall":3034,"Devonshire":6140,"Dorset":1115,"Gloucestershire":1837,"Isles Of Scilly":0,"Somerset":2150,"Wiltshire":1300},
      {"d":"2013-01","Avon":1044,"Cornwall":3022,"Devonshire":6080,"Dorset":1075,"Gloucestershire":1820,"Isles Of Scilly":0,"Somerset":2260,"Wiltshire":1275},
      {"d":"2013-04","Avon":1062,"Cornwall":2970,"Devonshire":5975,"Dorset":1037,"Gloucestershire":1770,"Isles Of Scilly":0,"Somerset":2340,"Wiltshire":1255},
      {"d":"2013-07","Avon":1079,"Cornwall":2892,"Devonshire":5850,"Dorset":990,"Gloucestershire":1705,"Isles Of Scilly":0,"Somerset":2360,"Wiltshire":1240},
      {"d":"2013-10","Avon":1096,"Cornwall":2807,"Devonshire":5730,"Dorset":935,"Gloucestershire":1640,"Isles Of Scilly":0,"Somerset":2280,"Wiltshire":1225},
      {"d":"2014-01","Avon":1113,"Cornwall":2743,"Devonshire":5660,"Dorset":875,"Gloucestershire":1530,"Isles Of Scilly":0,"Somerset":2196,"Wiltshire":1240},
      {"d":"2014-04","Avon":1136,"Cornwall":2755,"Devonshire":5700,"Dorset":835,"Gloucestershire":1420,"Isles Of Scilly":0,"Somerset":2030,"Wiltshire":1270},
      {"d":"2014-07","Avon":1159,"Cornwall":2872,"Devonshire":5850,"Dorset":805,"Gloucestershire":1331,"Isles Of Scilly":0,"Somerset":1880,"Wiltshire":1290},
      {"d":"2014-10","Avon":1177,"Cornwall":3034,"Devonshire":6000,"Dorset":792,"Gloucestershire":1270,"Isles Of Scilly":0,"Somerset":1790,"Wiltshire":1340},
      {"d":"2015-01","Avon":1194,"Cornwall":3151,"Devonshire":6250,"Dorset":810,"Gloucestershire":1250,"Isles Of Scilly":0,"Somerset":1785,"Wiltshire":1480},
      {"d":"2015-04","Avon":1203,"Cornwall":3261,"Devonshire":6500,"Dorset":835,"Gloucestershire":1245,"Isles Of Scilly":0,"Somerset":1840,"Wiltshire":1560},
      {"d":"2015-07","Avon":1212,"Cornwall":3326,"Devonshire":6700,"Dorset":860,"Gloucestershire":1265,"Isles Of Scilly":0,"Somerset":1905,"Wiltshire":1700},
      {"d":"2015-10","Avon":1238,"Cornwall":3372,"Devonshire":6850,"Dorset":895,"Gloucestershire":1290,"Isles Of Scilly":0,"Somerset":1960,"Wiltshire":1800},
      {"d":"2016-01","Avon":1263,"Cornwall":3424,"Devonshire":7000,"Dorset":930,"Gloucestershire":1305,"Isles Of Scilly":0,"Somerset":2030,"Wiltshire":1860},
      {"d":"2016-04","Avon":1298,"Cornwall":3488,"Devonshire":7120,"Dorset":970,"Gloucestershire":1310,"Isles Of Scilly":0,"Somerset":2100,"Wiltshire":1910},
      {"d":"2016-07","Avon":1321,"Cornwall":3553,"Devonshire":7220,"Dorset":1005,"Gloucestershire":1300,"Isles Of Scilly":0,"Somerset":2131,"Wiltshire":1935},
      {"d":"2016-10","Avon":1321,"Cornwall":3631,"Devonshire":7330,"Dorset":1035,"Gloucestershire":1285,"Isles Of Scilly":0,"Somerset":2115,"Wiltshire":1955},
      {"d":"2017-01","Avon":1305,"Cornwall":3696,"Devonshire":7430,"Dorset":1070,"Gloucestershire":1265,"Isles Of Scilly":0,"Somerset":2095,"Wiltshire":1970},
      {"d":"2017-04","Avon":1263,"Cornwall":3728,"Devonshire":7500,"Dorset":1130,"Gloucestershire":1255,"Isles Of Scilly":0,"Somerset":2090,"Wiltshire":1972},
      {"d":"2017-07","Avon":1205,"Cornwall":3715,"Devonshire":7530,"Dorset":1220,"Gloucestershire":1260,"Isles Of Scilly":0,"Somerset":2115,"Wiltshire":1950},
      {"d":"2017-10","Avon":1148,"Cornwall":3618,"Devonshire":7530,"Dorset":1380,"Gloucestershire":1280,"Isles Of Scilly":0,"Somerset":2170,"Wiltshire":1905},
      {"d":"2018-01","Avon":1090,"Cornwall":3488,"Devonshire":7450,"Dorset":1540,"Gloucestershire":1300,"Isles Of Scilly":0,"Somerset":2210,"Wiltshire":1860},
      {"d":"2018-04","Avon":1060,"Cornwall":3391,"Devonshire":7320,"Dorset":1680,"Gloucestershire":1312,"Isles Of Scilly":0,"Somerset":2250,"Wiltshire":1810},
      {"d":"2018-07","Avon":1028,"Cornwall":3294,"Devonshire":7180,"Dorset":1830,"Gloucestershire":1300,"Isles Of Scilly":0,"Somerset":2280,"Wiltshire":1770},
      {"d":"2018-10","Avon":995,"Cornwall":3242,"Devonshire":7050,"Dorset":1920,"Gloucestershire":1270,"Isles Of Scilly":0,"Somerset":2240,"Wiltshire":1775},
      {"d":"2019-01","Avon":963,"Cornwall":3216,"Devonshire":6900,"Dorset":1970,"Gloucestershire":1250,"Isles Of Scilly":0,"Somerset":2120,"Wiltshire":1795},
      {"d":"2019-04","Avon":935,"Cornwall":3197,"Devonshire":6720,"Dorset":2000,"Gloucestershire":1210,"Isles Of Scilly":0,"Somerset":2010,"Wiltshire":1815},
      {"d":"2019-07","Avon":906,"Cornwall":3184,"Devonshire":6520,"Dorset":2008,"Gloucestershire":1160,"Isles Of Scilly":0,"Somerset":1940,"Wiltshire":1845},
      {"d":"2019-10","Avon":877,"Cornwall":3164,"Devonshire":6300,"Dorset":1985,"Gloucestershire":1130,"Isles Of Scilly":0,"Somerset":1870,"Wiltshire":1855},
      {"d":"2020-01","Avon":848,"Cornwall":3112,"Devonshire":6100,"Dorset":1950,"Gloucestershire":1135,"Isles Of Scilly":0,"Somerset":1830,"Wiltshire":1765},
      {"d":"2020-04","Avon":825,"Cornwall":3034,"Devonshire":6000,"Dorset":1905,"Gloucestershire":1170,"Isles Of Scilly":0,"Somerset":1850,"Wiltshire":1700},
      {"d":"2020-07","Avon":830,"Cornwall":2937,"Devonshire":5975,"Dorset":1860,"Gloucestershire":1215,"Isles Of Scilly":0,"Somerset":1920,"Wiltshire":1625},
      {"d":"2020-10","Avon":871,"Cornwall":2853,"Devonshire":5980,"Dorset":1815,"Gloucestershire":1260,"Isles Of Scilly":0,"Somerset":1980,"Wiltshire":1540},
      {"d":"2021-01","Avon":952,"Cornwall":2801,"Devonshire":5990,"Dorset":1760,"Gloucestershire":1310,"Isles Of Scilly":0,"Somerset":2050,"Wiltshire":1470},
      {"d":"2021-04","Avon":1033,"Cornwall":2775,"Devonshire":5995,"Dorset":1700,"Gloucestershire":1330,"Isles Of Scilly":0,"Somerset":2110,"Wiltshire":1420},
      {"d":"2021-07","Avon":1113,"Cornwall":2755,"Devonshire":5850,"Dorset":1614,"Gloucestershire":1300,"Isles Of Scilly":0,"Somerset":2170,"Wiltshire":1362},
      {"d":"2021-10","Avon":1171,"Cornwall":2743,"Devonshire":5600,"Dorset":1500,"Gloucestershire":1230,"Isles Of Scilly":0,"Somerset":2165,"Wiltshire":1310},
      {"d":"2022-01","Avon":1187,"Cornwall":2723,"Devonshire":5340,"Dorset":1390,"Gloucestershire":1160,"Isles Of Scilly":0,"Somerset":2110,"Wiltshire":1255},
      {"d":"2022-04","Avon":1189,"Cornwall":2697,"Devonshire":5000,"Dorset":1260,"Gloucestershire":1060,"Isles Of Scilly":0,"Somerset":2050,"Wiltshire":1199},
      {"d":"2022-07","Avon":1171,"Cornwall":2658,"Devonshire":4700,"Dorset":1130,"Gloucestershire":970,"Isles Of Scilly":0,"Somerset":1880,"Wiltshire":1170},
      {"d":"2022-10","Avon":1120,"Cornwall":2613,"Devonshire":4470,"Dorset":1030,"Gloucestershire":900,"Isles Of Scilly":0,"Somerset":1700,"Wiltshire":1155},
      {"d":"2023-01","Avon":1056,"Cornwall":2548,"Devonshire":4350,"Dorset":950,"Gloucestershire":855,"Isles Of Scilly":0,"Somerset":1530,"Wiltshire":1155},
      {"d":"2023-04","Avon":998,"Cornwall":2483,"Devonshire":4300,"Dorset":900,"Gloucestershire":850,"Isles Of Scilly":0,"Somerset":1430,"Wiltshire":1175},
      {"d":"2023-07","Avon":917,"Cornwall":2451,"Devonshire":4380,"Dorset":910,"Gloucestershire":880,"Isles Of Scilly":0,"Somerset":1370,"Wiltshire":1205},
      {"d":"2023-10","Avon":837,"Cornwall":2451,"Devonshire":4474,"Dorset":950,"Gloucestershire":920,"Isles Of Scilly":0,"Somerset":1335,"Wiltshire":1225},
      {"d":"2024-01","Avon":797,"Cornwall":2464,"Devonshire":4580,"Dorset":995,"Gloucestershire":965,"Isles Of Scilly":0,"Somerset":1325,"Wiltshire":1240},
      {"d":"2024-04","Avon":782,"Cornwall":2477,"Devonshire":4680,"Dorset":1025,"Gloucestershire":1005,"Isles Of Scilly":0,"Somerset":1325,"Wiltshire":1252},
      {"d":"2024-07","Avon":779,"Cornwall":2483,"Devonshire":4700,"Dorset":1045,"Gloucestershire":1030,"Isles Of Scilly":0,"Somerset":1325,"Wiltshire":1256},
      {"d":"2024-10","Avon":785,"Cornwall":2464,"Devonshire":4700,"Dorset":1055,"Gloucestershire":1035,"Isles Of Scilly":0,"Somerset":1328,"Wiltshire":1258},
      {"d":"2025-01","Avon":791,"Cornwall":2419,"Devonshire":4690,"Dorset":1055,"Gloucestershire":1030,"Isles Of Scilly":0,"Somerset":1330,"Wiltshire":1260},
      {"d":"2025-04","Avon":797,"Cornwall":2354,"Devonshire":4680,"Dorset":1050,"Gloucestershire":1025,"Isles Of Scilly":0,"Somerset":1335,"Wiltshire":1264}
    ]
  },
  "concat": [
    {
      "title": {"text": ["Sum of animals slaughtered", "in the preceding 12 months.", "SAM_2025_09_10. 35-month Hann."]},
      "width": 431, "height": 231,
      "resolve": {"axis": {"y": "independent"}},
      "layer": [
        {
          "data": {"name": "pts"},
          "mark": {"type": "point", "color": "#ff0000", "strokeWidth": 1.2, "size": 60, "opacity": 1, "clip": false},
          "encoding": {
            "x": {"field": "d", "type": "temporal", "scale": {"type": "utc", "domain": [{"year": 1995, "month": 1, "date": 1, "utc": true}, {"year": 2026, "month": 5, "date": 1, "utc": true}]},
                  "axis": {"title": "YearMonth", "tickCount": {"interval": "year", "step": 1}, "labelExpr": "utcyear(datum.value) % 2 == 1 ? utcFormat(datum.value, '%Y%m') : ''"}},
            "y": {"field": "Avon", "type": "quantitative", "scale": {"domain": [0, 1600], "nice": false},
                  "axis": {"orient": "left", "title": null, "values": [0,100,200,300,400,500,600,700,800,900,1000,1100,1200,1300,1400,1500,1600], "labelExpr": "datum.value % 200 == 0 ? datum.label : ''", "gridOpacity": {"condition": {"test": "datum.value % 200 != 0", "value": 0}, "value": 1}}},
            "shape": {"datum": "Avon", "scale": {"range": ["circle"]}, "legend": {"title": null, "orient": "none", "legendX": 40, "legendY": 11, "symbolSize": 0, "symbolOpacity": 0, "symbolStrokeWidth": 0, "labelOffset": -10}}
          }
        },
        {
          "data": {"name": "sm"},
          "mark": {"type": "line", "color": "#000", "strokeWidth": 3, "interpolate": "monotone"},
          "encoding": {
            "x": {"field": "d", "type": "temporal", "scale": {"type": "utc"}},
            "y": {"field": "Avon", "type": "quantitative", "scale": {"domain": [0, 1600], "nice": false},
                  "axis": {"orient": "right", "title": null, "grid": false, "values": [0,100,200,300,400,500,600,700,800,900,1000,1100,1200,1300,1400,1500,1600], "labelExpr": "datum.value % 200 == 0 ? datum.label : ''"}},
            "strokeDash": {"datum": "Fig 572a", "scale": {"range": [[1, 0]]}, "legend": {"title": null, "orient": "none", "legendX": 381, "legendY": 302, "symbolSize": 0, "symbolOpacity": 0, "symbolStrokeWidth": 0, "labelOffset": -10}}
          }
        }
      ]
    },
    {
      "title": {"text": ["Sum of animals slaughtered", "in the preceding 12 months.", "SAM_2025_09_10. 35-month Hann."]},
      "width": 431, "height": 231,
      "resolve": {"axis": {"y": "independent"}},
      "layer": [
        {
          "data": {"name": "pts"},
          "mark": {"type": "point", "color": "#ff0000", "strokeWidth": 1.2, "size": 60, "opacity": 1, "clip": false},
          "encoding": {
            "x": {"field": "d", "type": "temporal", "scale": {"type": "utc", "domain": [{"year": 1995, "month": 1, "date": 1, "utc": true}, {"year": 2026, "month": 5, "date": 1, "utc": true}]},
                  "axis": {"title": "YearMonth", "tickCount": {"interval": "year", "step": 1}, "labelExpr": "utcyear(datum.value) % 2 == 1 ? utcFormat(datum.value, '%Y%m') : ''"}},
            "y": {"field": "Cornwall", "type": "quantitative", "scale": {"domain": [0, 4500], "nice": false},
                  "axis": {"orient": "left", "title": null, "values": [0,250,500,750,1000,1250,1500,1750,2000,2250,2500,2750,3000,3250,3500,3750,4000,4250,4500], "labelExpr": "datum.value % 500 == 0 ? datum.label : ''", "gridOpacity": {"condition": {"test": "datum.value % 500 != 0", "value": 0}, "value": 1}}},
            "shape": {"datum": "Cornwall", "scale": {"range": ["circle"]}, "legend": {"title": null, "orient": "none", "legendX": 40, "legendY": 11, "symbolSize": 0, "symbolOpacity": 0, "symbolStrokeWidth": 0, "labelOffset": -10}}
          }
        },
        {
          "data": {"name": "sm"},
          "mark": {"type": "line", "color": "#000", "strokeWidth": 3, "interpolate": "monotone"},
          "encoding": {
            "x": {"field": "d", "type": "temporal", "scale": {"type": "utc"}},
            "y": {"field": "Cornwall", "type": "quantitative", "scale": {"domain": [0, 4500], "nice": false},
                  "axis": {"orient": "right", "title": null, "grid": false, "values": [0,250,500,750,1000,1250,1500,1750,2000,2250,2500,2750,3000,3250,3500,3750,4000,4250,4500], "labelExpr": "datum.value % 500 == 0 ? datum.label : ''"}},
            "strokeDash": {"datum": "Fig 572b", "scale": {"range": [[1, 0]]}, "legend": {"title": null, "orient": "none", "legendX": 381, "legendY": 302, "symbolSize": 0, "symbolOpacity": 0, "symbolStrokeWidth": 0, "labelOffset": -10}}
          }
        }
      ]
    },
    {
      "title": {"text": ["Sum of animals slaughtered", "in the preceding 12 months.", "SAM_2025_09_10. 35-month Hann."]},
      "width": 431, "height": 231,
      "resolve": {"axis": {"y": "independent"}},
      "layer": [
        {
          "data": {"name": "pts"},
          "mark": {"type": "point", "color": "#ff0000", "strokeWidth": 1.2, "size": 60, "opacity": 1, "clip": false},
          "encoding": {
            "x": {"field": "d", "type": "temporal", "scale": {"type": "utc", "domain": [{"year": 1995, "month": 1, "date": 1, "utc": true}, {"year": 2026, "month": 5, "date": 1, "utc": true}]},
                  "axis": {"title": "YearMonth", "tickCount": {"interval": "year", "step": 1}, "labelExpr": "utcyear(datum.value) % 2 == 1 ? utcFormat(datum.value, '%Y%m') : ''"}},
            "y": {"field": "Devonshire", "type": "quantitative", "scale": {"domain": [0, 8000], "nice": false},
                  "axis": {"orient": "left", "title": null, "values": [0,500,1000,1500,2000,2500,3000,3500,4000,4500,5000,5500,6000,6500,7000,7500,8000], "labelExpr": "datum.value % 1000 == 0 ? datum.label : ''", "gridOpacity": {"condition": {"test": "datum.value % 1000 != 0", "value": 0}, "value": 1}}},
            "shape": {"datum": "Devonshire", "scale": {"range": ["circle"]}, "legend": {"title": null, "orient": "none", "legendX": 40, "legendY": 11, "symbolSize": 0, "symbolOpacity": 0, "symbolStrokeWidth": 0, "labelOffset": -10}}
          }
        },
        {
          "data": {"name": "sm"},
          "mark": {"type": "line", "color": "#000", "strokeWidth": 3, "interpolate": "monotone"},
          "encoding": {
            "x": {"field": "d", "type": "temporal", "scale": {"type": "utc"}},
            "y": {"field": "Devonshire", "type": "quantitative", "scale": {"domain": [0, 8000], "nice": false},
                  "axis": {"orient": "right", "title": null, "grid": false, "values": [0,500,1000,1500,2000,2500,3000,3500,4000,4500,5000,5500,6000,6500,7000,7500,8000], "labelExpr": "datum.value % 1000 == 0 ? datum.label : ''"}},
            "strokeDash": {"datum": "Fig 572c", "scale": {"range": [[1, 0]]}, "legend": {"title": null, "orient": "none", "legendX": 381, "legendY": 302, "symbolSize": 0, "symbolOpacity": 0, "symbolStrokeWidth": 0, "labelOffset": -10}}
          }
        }
      ]
    },
    {
      "title": {"text": ["Sum of animals slaughtered", "in the preceding 12 months.", "SAM_2025_09_10. 35-month Hann."]},
      "width": 431, "height": 231,
      "resolve": {"axis": {"y": "independent"}},
      "layer": [
        {
          "data": {"name": "pts"},
          "mark": {"type": "point", "color": "#ff0000", "strokeWidth": 1.2, "size": 60, "opacity": 1, "clip": false},
          "encoding": {
            "x": {"field": "d", "type": "temporal", "scale": {"type": "utc", "domain": [{"year": 1995, "month": 1, "date": 1, "utc": true}, {"year": 2026, "month": 5, "date": 1, "utc": true}]},
                  "axis": {"title": "YearMonth", "tickCount": {"interval": "year", "step": 1}, "labelExpr": "utcyear(datum.value) % 2 == 1 ? utcFormat(datum.value, '%Y%m') : ''"}},
            "y": {"field": "Dorset", "type": "quantitative", "scale": {"domain": [0, 2500], "nice": false},
                  "axis": {"orient": "left", "title": null, "values": [0,100,200,300,400,500,600,700,800,900,1000,1100,1200,1300,1400,1500,1600,1700,1800,1900,2000,2100,2200,2300,2400,2500], "labelExpr": "datum.value % 500 == 0 ? datum.label : ''", "gridOpacity": {"condition": {"test": "datum.value % 500 != 0", "value": 0}, "value": 1}}},
            "shape": {"datum": "Dorset", "scale": {"range": ["circle"]}, "legend": {"title": null, "orient": "none", "legendX": 40, "legendY": 11, "symbolSize": 0, "symbolOpacity": 0, "symbolStrokeWidth": 0, "labelOffset": -10}}
          }
        },
        {
          "data": {"name": "sm"},
          "mark": {"type": "line", "color": "#000", "strokeWidth": 3, "interpolate": "monotone"},
          "encoding": {
            "x": {"field": "d", "type": "temporal", "scale": {"type": "utc"}},
            "y": {"field": "Dorset", "type": "quantitative", "scale": {"domain": [0, 2500], "nice": false},
                  "axis": {"orient": "right", "title": null, "grid": false, "values": [0,100,200,300,400,500,600,700,800,900,1000,1100,1200,1300,1400,1500,1600,1700,1800,1900,2000,2100,2200,2300,2400,2500], "labelExpr": "datum.value % 500 == 0 ? datum.label : ''"}},
            "strokeDash": {"datum": "Fig 572d", "scale": {"range": [[1, 0]]}, "legend": {"title": null, "orient": "none", "legendX": 381, "legendY": 302, "symbolSize": 0, "symbolOpacity": 0, "symbolStrokeWidth": 0, "labelOffset": -10}}
          }
        }
      ]
    },
    {
      "title": {"text": ["Sum of animals slaughtered", "in the preceding 12 months.", "SAM_2025_09_10. 35-month Hann."]},
      "width": 431, "height": 231,
      "resolve": {"axis": {"y": "independent"}},
      "layer": [
        {
          "data": {"name": "pts"},
          "mark": {"type": "point", "color": "#ff0000", "strokeWidth": 1.2, "size": 60, "opacity": 1, "clip": false},
          "encoding": {
            "x": {"field": "d", "type": "temporal", "scale": {"type": "utc", "domain": [{"year": 1995, "month": 1, "date": 1, "utc": true}, {"year": 2026, "month": 5, "date": 1, "utc": true}]},
                  "axis": {"title": "YearMonth", "tickCount": {"interval": "year", "step": 1}, "labelExpr": "utcyear(datum.value) % 2 == 1 ? utcFormat(datum.value, '%Y%m') : ''"}},
            "y": {"field": "Gloucestershire", "type": "quantitative", "scale": {"domain": [0, 3000], "nice": false},
                  "axis": {"orient": "left", "title": null, "values": [0,100,200,300,400,500,600,700,800,900,1000,1100,1200,1300,1400,1500,1600,1700,1800,1900,2000,2100,2200,2300,2400,2500,2600,2700,2800,2900,3000], "labelExpr": "datum.value % 500 == 0 ? datum.label : ''", "gridOpacity": {"condition": {"test": "datum.value % 500 != 0", "value": 0}, "value": 1}}},
            "shape": {"datum": "Gloucestershire", "scale": {"range": ["circle"]}, "legend": {"title": null, "orient": "none", "legendX": 40, "legendY": 11, "symbolSize": 0, "symbolOpacity": 0, "symbolStrokeWidth": 0, "labelOffset": -10}}
          }
        },
        {
          "data": {"name": "sm"},
          "mark": {"type": "line", "color": "#000", "strokeWidth": 3, "interpolate": "monotone"},
          "encoding": {
            "x": {"field": "d", "type": "temporal", "scale": {"type": "utc"}},
            "y": {"field": "Gloucestershire", "type": "quantitative", "scale": {"domain": [0, 3000], "nice": false},
                  "axis": {"orient": "right", "title": null, "grid": false, "values": [0,100,200,300,400,500,600,700,800,900,1000,1100,1200,1300,1400,1500,1600,1700,1800,1900,2000,2100,2200,2300,2400,2500,2600,2700,2800,2900,3000], "labelExpr": "datum.value % 500 == 0 ? datum.label : ''"}},
            "strokeDash": {"datum": "Fig 572e", "scale": {"range": [[1, 0]]}, "legend": {"title": null, "orient": "none", "legendX": 381, "legendY": 302, "symbolSize": 0, "symbolOpacity": 0, "symbolStrokeWidth": 0, "labelOffset": -10}}
          }
        }
      ]
    },
    {
      "title": {"text": ["Sum of animals slaughtered", "in the preceding 12 months.", "SAM_2025_09_10. 35-month Hann."]},
      "width": 431, "height": 231,
      "resolve": {"axis": {"y": "independent"}},
      "layer": [
        {
          "data": {"name": "pts"},
          "mark": {"type": "point", "color": "#ff0000", "strokeWidth": 1.2, "size": 60, "opacity": 1, "clip": false},
          "encoding": {
            "x": {"field": "d", "type": "temporal", "scale": {"type": "utc", "domain": [{"year": 1995, "month": 1, "date": 1, "utc": true}, {"year": 2026, "month": 5, "date": 1, "utc": true}]},
                  "axis": {"title": "YearMonth", "tickCount": {"interval": "year", "step": 1}, "labelExpr": "utcyear(datum.value) % 2 == 1 ? utcFormat(datum.value, '%Y%m') : ''"}},
            "y": {"field": "Isles Of Scilly", "type": "quantitative", "scale": {"domain": [0, 1], "nice": false},
                  "axis": {"orient": "left", "title": null, "format": ".1f", "values": [0,0.1,0.2,0.3,0.4,0.5,0.6,0.7,0.8,0.9,1], "labelExpr": "round(datum.value * 10) % 2 == 0 ? datum.label : ''", "gridOpacity": {"condition": {"test": "round(datum.value * 10) % 2 != 0", "value": 0}, "value": 1}}},
            "shape": {"datum": "Isles Of Scilly", "scale": {"range": ["circle"]}, "legend": {"title": null, "orient": "none", "legendX": 40, "legendY": 11, "symbolSize": 0, "symbolOpacity": 0, "symbolStrokeWidth": 0, "labelOffset": -10}}
          }
        },
        {
          "data": {"name": "sm"},
          "mark": {"type": "line", "color": "#000", "strokeWidth": 3, "interpolate": "monotone"},
          "encoding": {
            "x": {"field": "d", "type": "temporal", "scale": {"type": "utc"}},
            "y": {"field": "Isles Of Scilly", "type": "quantitative", "scale": {"domain": [0, 1], "nice": false},
                  "axis": {"orient": "right", "title": null, "grid": false, "format": ".1f", "values": [0,0.1,0.2,0.3,0.4,0.5,0.6,0.7,0.8,0.9,1], "labelExpr": "round(datum.value * 10) % 2 == 0 ? datum.label : ''"}},
            "strokeDash": {"datum": "Fig 572f", "scale": {"range": [[1, 0]]}, "legend": {"title": null, "orient": "none", "legendX": 381, "legendY": 302, "symbolSize": 0, "symbolOpacity": 0, "symbolStrokeWidth": 0, "labelOffset": -10}}
          }
        }
      ]
    },
    {
      "title": {"text": ["Sum of animals slaughtered", "in the preceding 12 months.", "SAM_2025_09_10. 35-month Hann."]},
      "width": 431, "height": 231,
      "resolve": {"axis": {"y": "independent"}},
      "layer": [
        {
          "data": {"name": "pts"},
          "mark": {"type": "point", "color": "#ff0000", "strokeWidth": 1.2, "size": 60, "opacity": 1, "clip": false},
          "encoding": {
            "x": {"field": "d", "type": "temporal", "scale": {"type": "utc", "domain": [{"year": 1995, "month": 1, "date": 1, "utc": true}, {"year": 2026, "month": 5, "date": 1, "utc": true}]},
                  "axis": {"title": "YearMonth", "tickCount": {"interval": "year", "step": 1}, "labelExpr": "utcyear(datum.value) % 2 == 1 ? utcFormat(datum.value, '%Y%m') : ''"}},
            "y": {"field": "Somerset", "type": "quantitative", "scale": {"domain": [0, 3000], "nice": false},
                  "axis": {"orient": "left", "title": null, "values": [0,100,200,300,400,500,600,700,800,900,1000,1100,1200,1300,1400,1500,1600,1700,1800,1900,2000,2100,2200,2300,2400,2500,2600,2700,2800,2900,3000], "labelExpr": "datum.value % 500 == 0 ? datum.label : ''", "gridOpacity": {"condition": {"test": "datum.value % 500 != 0", "value": 0}, "value": 1}}},
            "shape": {"datum": "Somerset", "scale": {"range": ["circle"]}, "legend": {"title": null, "orient": "none", "legendX": 40, "legendY": 11, "symbolSize": 0, "symbolOpacity": 0, "symbolStrokeWidth": 0, "labelOffset": -10}}
          }
        },
        {
          "data": {"name": "sm"},
          "mark": {"type": "line", "color": "#000", "strokeWidth": 3, "interpolate": "monotone"},
          "encoding": {
            "x": {"field": "d", "type": "temporal", "scale": {"type": "utc"}},
            "y": {"field": "Somerset", "type": "quantitative", "scale": {"domain": [0, 3000], "nice": false},
                  "axis": {"orient": "right", "title": null, "grid": false, "values": [0,100,200,300,400,500,600,700,800,900,1000,1100,1200,1300,1400,1500,1600,1700,1800,1900,2000,2100,2200,2300,2400,2500,2600,2700,2800,2900,3000], "labelExpr": "datum.value % 500 == 0 ? datum.label : ''"}},
            "strokeDash": {"datum": "Fig 572g", "scale": {"range": [[1, 0]]}, "legend": {"title": null, "orient": "none", "legendX": 381, "legendY": 302, "symbolSize": 0, "symbolOpacity": 0, "symbolStrokeWidth": 0, "labelOffset": -10}}
          }
        }
      ]
    },
    {
      "title": {"text": ["Sum of animals slaughtered", "in the preceding 12 months.", "SAM_2025_09_10. 35-month Hann."]},
      "width": 431, "height": 231,
      "resolve": {"axis": {"y": "independent"}},
      "layer": [
        {
          "data": {"name": "pts"},
          "mark": {"type": "point", "color": "#ff0000", "strokeWidth": 1.2, "size": 60, "opacity": 1, "clip": false},
          "encoding": {
            "x": {"field": "d", "type": "temporal", "scale": {"type": "utc", "domain": [{"year": 1995, "month": 1, "date": 1, "utc": true}, {"year": 2026, "month": 5, "date": 1, "utc": true}]},
                  "axis": {"title": "YearMonth", "tickCount": {"interval": "year", "step": 1}, "labelExpr": "utcyear(datum.value) % 2 == 1 ? utcFormat(datum.value, '%Y%m') : ''"}},
            "y": {"field": "Wiltshire", "type": "quantitative", "scale": {"domain": [0, 2500], "nice": false},
                  "axis": {"orient": "left", "title": null, "values": [0,100,200,300,400,500,600,700,800,900,1000,1100,1200,1300,1400,1500,1600,1700,1800,1900,2000,2100,2200,2300,2400,2500], "labelExpr": "datum.value % 500 == 0 ? datum.label : ''", "gridOpacity": {"condition": {"test": "datum.value % 500 != 0", "value": 0}, "value": 1}}},
            "shape": {"datum": "Wiltshire", "scale": {"range": ["circle"]}, "legend": {"title": null, "orient": "none", "legendX": 40, "legendY": 11, "symbolSize": 0, "symbolOpacity": 0, "symbolStrokeWidth": 0, "labelOffset": -10}}
          }
        },
        {
          "data": {"name": "sm"},
          "mark": {"type": "line", "color": "#000", "strokeWidth": 3, "interpolate": "monotone"},
          "encoding": {
            "x": {"field": "d", "type": "temporal", "scale": {"type": "utc"}},
            "y": {"field": "Wiltshire", "type": "quantitative", "scale": {"domain": [0, 2500], "nice": false},
                  "axis": {"orient": "right", "title": null, "grid": false, "values": [0,100,200,300,400,500,600,700,800,900,1000,1100,1200,1300,1400,1500,1600,1700,1800,1900,2000,2100,2200,2300,2400,2500], "labelExpr": "datum.value % 500 == 0 ? datum.label : ''"}},
            "strokeDash": {"datum": "Fig 572h", "scale": {"range": [[1, 0]]}, "legend": {"title": null, "orient": "none", "legendX": 381, "legendY": 302, "symbolSize": 0, "symbolOpacity": 0, "symbolStrokeWidth": 0, "labelOffset": -10}}
          }
        }
      ]
    }
  ]
}
